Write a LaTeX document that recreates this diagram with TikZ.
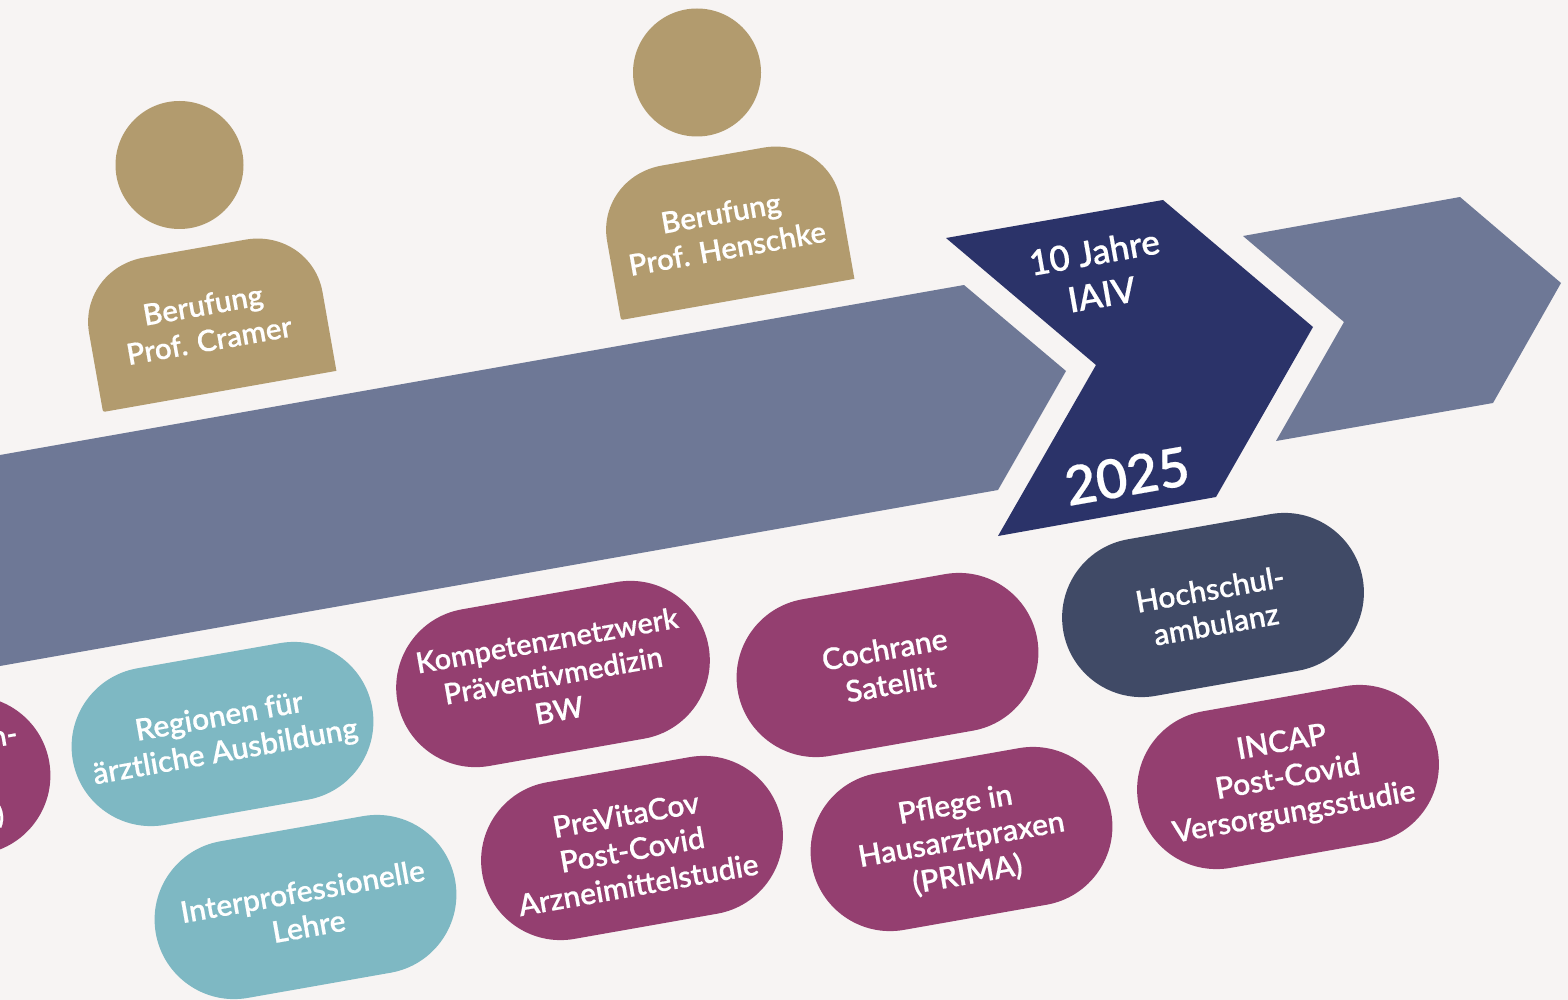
\documentclass[tikz,border=0pt]{standalone}
\usepackage{fontspec}
\setmainfont{Lato Semibold}[FakeBold=0.4]
\usetikzlibrary{shapes.misc}
\definecolor{bgc}{HTML}{F7F4F3}
\definecolor{flowc}{HTML}{6E7896}
\definecolor{navyc}{HTML}{2B3369}
\definecolor{goldc}{HTML}{B29B6E}
\definecolor{tealc}{HTML}{7EB8C3}
\definecolor{magc}{HTML}{943F70}
\definecolor{slatec}{HTML}{404A66}
\tikzset{
  pill/.style={shape=rounded rectangle,rounded rectangle arc length=180,minimum width=304pt,minimum height=159pt,inner sep=0pt,rotate=10},
  lab/.style={inner sep=0pt,rotate=10,align=center,text=white,font=\fontsize{30}{35.5}\selectfont},
  figlab/.style={lab,font=\fontsize{29.5}{36}\selectfont},
}
\newcommand{\bodyshape}[2]{%
  \fill[goldc,shift={(#1,#2)},rotate=10] (2,0) -- (237,0) -- (237,-80)
    .. controls (237,-116) and (208,-145) .. (170,-145)
    -- (67,-145) .. controls (29,-145) and (0,-116) .. (0,-80)
    -- (0,-2) .. controls (0,-1) and (1,0) .. (2,0) -- cycle;}
\newcommand{\pillnode}[5]{%
  \node[pill,fill=#2] (#1) at (#3,#4) {};
  \node[lab] (#1t) at ([yshift=-1.5pt]#1.center) {#5};}
\begin{document}
\begin{tikzpicture}[x=1pt,y=-1pt]
\useasboundingbox (0,0) rectangle (1568,1000);
\clip (0,0) rectangle (1568,1000);
\fill[bgc] (0,0) rectangle (1568,1000);
\fill[flowc] (0,455) -- (964,285) -- (1066,371) -- (998,490) -- (0,666) -- cycle;
\fill[navyc] (946,238) -- (1163,200) -- (1313,327) -- (1216,497) -- (998,536) -- (1096,365) -- cycle;
\fill[flowc] (1243,236) -- (1460,197) -- (1561,283) -- (1493,403) -- (1276,441) -- (1344,322) -- cycle;
\fill[goldc] (179.5,165) circle (64);
\fill[goldc] (697,72.5) circle (64);
\bodyshape{103}{412}
\bodyshape{621}{320}
\node[figlab] (cramer) at (206,322.5) {Berufung\\Prof. Cramer};
\node[figlab] (henschke) at (724,230.5) {Berufung\\Prof. Henschke};
\node[lab,font=\fontsize{35}{43}\selectfont] (jahre) at (1098,273) {10 Jahre\\IAIV};
\node[lab,font=\fontsize{54}{60}\selectfont] (year) at (1127,476) {2025};
\node[pill,fill=magc] (cut) at (-100.5,788) {};
\node[figlab] (cuta) at (4,738) {n-};
\node[figlab] (cutb) at (0,814) {)};
\pillnode{regionen}{tealc}{222.5}{734}{Regionen für\\ärztliche Ausbildung}
\pillnode{inter}{tealc}{305.5}{907}{Interprofessionelle\\Lehre}
\node[pill,fill=magc,minimum width=316pt] (kompetenz) at (553,674) {};
\node[lab,font=\fontsize{29}{35.5}\selectfont] (kompetenzt) at ([yshift=-1pt]kompetenz.center) {Kompetenznetzwerk\\Präventivmedizin\\BW};
\pillnode{previta}{magc}{632}{848}{PreVitaCov\\Post-Covid\\Arzneimittelstudie}
\pillnode{cochrane}{magc}{887.5}{665}{Cochrane\\Satellit}
\pillnode{pflege}{magc}{961.5}{839}{Pflege in\\Hausarztpraxen\\(PRIMA)}
\pillnode{hochschul}{slatec}{1213}{605}{Hochschul-\\ambulanz}
\pillnode{incap}{magc}{1288}{777}{INCAP\\Post-Covid\\Versorgungsstudie}
\end{tikzpicture}
\end{document}
